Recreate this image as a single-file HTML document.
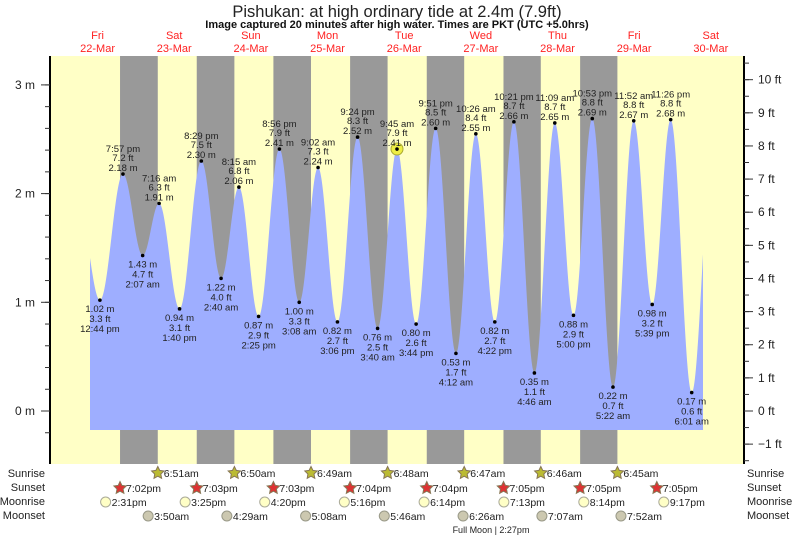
<!DOCTYPE html>
<html><head><meta charset="utf-8"><style>
body{margin:0;background:#fff;}
svg{display:block;font-family:"Liberation Sans",Arial,sans-serif;}
</style></head><body>
<svg id="chart" width="793" height="538" viewBox="0 0 793 538" xmlns="http://www.w3.org/2000/svg">
<text x="397" y="17" text-anchor="middle" font-size="16.5" fill="#222">Pishukan: at high  ordinary tide at 2.4m (7.9ft)</text>
<text x="397" y="28" text-anchor="middle" font-size="11" font-weight="bold" fill="#111">Image captured 20 minutes after high water. Times are PKT (UTC +5.0hrs)</text>
<g id="bg"></g><g id="fill"></g><g id="axes"></g><g id="labels"></g><g id="astro"></g>
<text x="491" y="533" text-anchor="middle" font-size="9" fill="#222">Full Moon | 2:27pm</text>
</svg>
<script>
// ---- data ----
const dayNames = ["Fri","Sat","Sun","Mon","Tue","Wed","Thu","Fri","Sat"];
const dayDates = ["22-Mar","23-Mar","24-Mar","25-Mar","26-Mar","27-Mar","28-Mar","29-Mar","30-Mar"];
// tide extremes: day offset from 22-Mar, time label, height (m)
const tideDay = [0,0,1,1,1,1,2,2,2,2,3,3,3,3,4,4,4,4,5,5,5,5,6,6,6,6,7,7,7,7,8];
const tideTime = ["12:44 pm","7:57 pm","2:07 am","7:16 am","1:40 pm","8:29 pm","2:40 am","8:15 am","2:25 pm","8:56 pm","3:08 am","9:02 am","3:06 pm","9:24 pm","3:40 am","9:45 am","3:44 pm","9:51 pm","4:12 am","10:26 am","4:22 pm","10:21 pm","4:46 am","11:09 am","5:00 pm","10:53 pm","5:22 am","11:52 am","5:39 pm","11:26 pm","6:01 am"];
const tideHeight = [1.02,2.18,1.43,1.91,0.94,2.30,1.22,2.06,0.87,2.41,1.00,2.24,0.82,2.52,0.76,2.41,0.80,2.60,0.53,2.55,0.82,2.66,0.35,2.65,0.88,2.69,0.22,2.67,0.98,2.68,0.17];
const currentIndex = 15;
// off-chart extremes used only for curve ends
const edgeDay = [0,8];
const edgeTime = ["6:30 am","12:30 pm"];
const edgeHeight = [1.8,2.4];
const sunriseTimes = ["6:51am","6:50am","6:49am","6:48am","6:47am","6:46am","6:45am"]; // days 1..7
const sunsetTimes = ["7:02pm","7:03pm","7:03pm","7:04pm","7:04pm","7:05pm","7:05pm","7:05pm"]; // days 0..7
const moonriseTimes = ["2:31pm","3:25pm","4:20pm","5:16pm","6:14pm","7:13pm","8:14pm","9:17pm"]; // days 0..7
const moonsetTimes = ["3:50am","4:29am","5:08am","5:46am","6:26am","7:07am","7:52am"]; // days 1..7
const mTicks = [0,1,2,3];
const ftTicks = [-1,0,1,2,3,4,5,6,7,8,9,10];

// ---- scales ----
const X0 = 135.9-24*3.194, PXH = 3.194;
const Y0 = 411, PXM = 108.7;
function parseT(s){const m=s.match(/(\d+):(\d+)\s*(am|pm)/);let h=+m[1]%12;if(m[3]=="pm")h+=12;return h+(+m[2])/60;}
function hrs(day,t){return day*24+parseT(t);}
function xs(h){return X0+h*PXH;}
function ys(m){return Y0-m*PXM;}
const NS="http://www.w3.org/2000/svg";
function mk(tag,attrs,parent,text){const e=document.createElementNS(NS,tag);for(const k in attrs)e.setAttribute(k,attrs[k]);if(text!==undefined)e.textContent=text;parent.appendChild(e);return e;}
const bg=document.getElementById('bg'),fillG=document.getElementById('fill'),axes=document.getElementById('axes'),labs=document.getElementById('labels'),astro=document.getElementById('astro');

// background
let r=mk('rect',{x:50,y:56,width:694,height:408,fill:'#ffffc6'},bg);


for(let i=0;i<7;i++){
  const a=xs(hrs(i,sunsetTimes[i])), b=xs(hrs(i+1,sunriseTimes[i]));
  const n=mk('rect',{x:a,y:56,width:b-a,height:408,fill:'#999'},bg);
  
  
}
// day labels
for(let i=0;i<dayNames.length;i++){
  const x=xs(i*24+12);
  const t1=mk('text',{x:x,y:39,'text-anchor':'middle','font-size':11,fill:'#f22'},labs,dayNames[i]);
  
  
  const t2=mk('text',{x:x,y:52,'text-anchor':'middle','font-size':11,fill:'#f22'},labs,dayDates[i]);
  
  
}
// curve
const ext=[{h:hrs(edgeDay[0],edgeTime[0]),v:edgeHeight[0]}];
for(let i=0;i<tideHeight.length;i++)ext.push({h:hrs(tideDay[i],tideTime[i]),v:tideHeight[i]});
ext.push({h:hrs(edgeDay[1],edgeTime[1]),v:edgeHeight[1]});
function level(h){for(let i=0;i<ext.length-1;i++){const a=ext[i],b=ext[i+1];if(h>=a.h&&h<=b.h){const f=(h-a.h)/(b.h-a.h);return a.v+(b.v-a.v)*(1-Math.cos(Math.PI*f))/2;}}return ext[ext.length-1].v;}
const xStart=90,xEnd=703,base=ys(-0.175);
let d=`M${xStart},${base}`;
for(let x=xStart;x<=xEnd;x+=0.5){d+=` L${x},${ys(level((x-X0)/PXH)).toFixed(2)}`;}
d+=` L${xEnd},${base} Z`;
const p=mk('path',{d:d,fill:'#9eaeff'},fillG);



// axes
mk('line',{x1:50,y1:56,x2:50,y2:464,stroke:'#000','stroke-width':2},axes);
mk('line',{x1:744,y1:56,x2:744,y2:464,stroke:'#000','stroke-width':2},axes);
for(let v=-0.2;v<=3.2;v+=0.2){const y=ys(v);if(y<56||y>464)continue;mk('line',{x1:45,y1:y,x2:50,y2:y,stroke:'#333'},axes);}
mTicks.forEach(v=>{const y=ys(v);mk('line',{x1:41,y1:y,x2:50,y2:y,stroke:'#333'},axes);
  const t=mk('text',{x:35,y:y+4,'text-anchor':'end','font-size':12,fill:'#222'},axes,v+' m');
  
  });
for(let f=-1.5;f<=10.5;f+=0.5){const y=ys(f*0.3048);if(y<56||y>464)continue;mk('line',{x1:744,y1:y,x2:749,y2:y,stroke:'#333'},axes);}
ftTicks.forEach(f=>{const y=ys(f*0.3048);mk('line',{x1:744,y1:y,x2:753,y2:y,stroke:'#333'},axes);
  const t=mk('text',{x:758,y:y+4,'font-size':12,fill:'#222'},axes,(f<0?'\u22121':f)+' ft');
  
  });

// tide labels
for(let i=0;i<tideHeight.length;i++){
  const x=xs(hrs(tideDay[i],tideTime[i])),y=ys(tideHeight[i]);
  const high=i%2==1;
  const m=tideHeight[i].toFixed(2)+' m', ft=(tideHeight[i]/0.3048).toFixed(1)+' ft';
  if(i===currentIndex){const c=mk('circle',{cx:x,cy:y,r:6,fill:'#ee4',stroke:'#aa3','stroke-width':1},labs);
    
    }
  const dot=mk('circle',{cx:x,cy:y,r:1.8,fill:'#000'},labs);
  
  
  const lines=high?[tideTime[i],ft,m]:[m,ft,tideTime[i]];
  const offs=high?[-21,-12,-2]:[11,21,31];
  for(let k=0;k<3;k++){
    const t=mk('text',{x:x,y:y+offs[k]+(high?-1:1),'text-anchor':'middle','font-size':9.5,fill:'#222'},labs,lines[k]);
    
    
  }
}

// astro rows
const rows=[["Sunrise",477],["Sunset",491],["Moonrise",505],["Moonset",519]];
rows.forEach(rw=>{
  const a=mk('text',{x:45,y:rw[1],'text-anchor':'end','font-size':11,fill:'#222'},astro,rw[0]);
  
  
  const b=mk('text',{x:747,y:rw[1],'font-size':11,fill:'#222'},astro,rw[0]);
  
  
});
function star(cx,cy,fill,stroke,name){let pts=[];for(let k=0;k<10;k++){const ang=-Math.PI/2+k*Math.PI/5,rr=k%2?3.2:6.5;pts.push((cx+rr*Math.cos(ang)).toFixed(1)+','+(cy+rr*Math.sin(ang)).toFixed(1));}
  const s=mk('polygon',{points:pts.join(' '),fill:fill,stroke:stroke,'stroke-width':1},astro);
  
  }
function lbl(x,y,txt,name){const t=mk('text',{x:x+6,y:y+4,'font-size':10.5,fill:'#222'},astro,txt);
  
  }
sunriseTimes.forEach((s,i)=>{const x=xs(hrs(i+1,s));star(x,473,'#bb3','#875','sunrise-icon');lbl(x,473,s,'sunrise-time');});
sunsetTimes.forEach((s,i)=>{const x=xs(hrs(i,s));star(x,488,'#d33','#875','sunset-icon');lbl(x,488,s,'sunset-time');});
moonriseTimes.forEach((s,i)=>{const x=xs(hrs(i,s));const c=mk('circle',{cx:x,cy:502,r:5,fill:'#ffffc6',stroke:'#aa9'},astro);
  
  
  lbl(x,502,s,'moonrise-time');});
moonsetTimes.forEach((s,i)=>{const x=xs(hrs(i+1,s));const c=mk('circle',{cx:x,cy:516,r:5,fill:'#ccc8b0',stroke:'#998'},astro);
  
  
  lbl(x,516,s,'moonset-time');});
</script>
</body></html>
